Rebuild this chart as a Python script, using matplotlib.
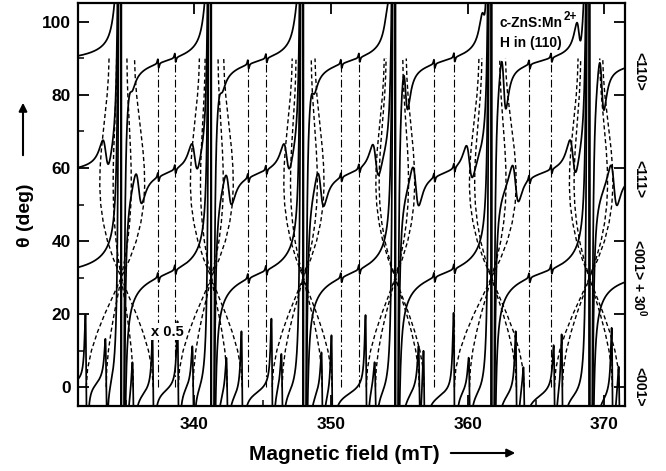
import numpy as np
import matplotlib
matplotlib.use("Agg")
import matplotlib.pyplot as plt
from matplotlib.ticker import MultipleLocator
import matplotlib.transforms as mtransforms
from matplotlib.patches import FancyArrowPatch

plt.rcParams['font.family'] = ['Liberation Sans', 'DejaVu Sans']
plt.rcParams['font.weight'] = 'bold'
plt.rcParams['mathtext.fontset'] = 'custom'
plt.rcParams['mathtext.rm'] = 'Liberation Sans:bold'
plt.rcParams['mathtext.bf'] = 'Liberation Sans:bold'
plt.rcParams['mathtext.default'] = 'bf'

# ---------------- data ----------------
field_range = [331.5, 371.5]
theta_range = [-5.2, 105.2]

# central (M=1/2 <-> -1/2) hyperfine sextet, mT
main_field = [334.66, 341.24, 347.97, 354.70, 361.73, 368.90]
# forbidden (dash-dot, isotropic) transitions, mT
forbidden_field = [337.37, 338.61, 343.95, 345.27, 350.75, 352.07,
                   357.56, 359.02, 364.51, 366.12]

# spectra: <001>, <001>+30, <111>, <110>
trace_names = ['<001>', '<001> + 30$^{0}$', '<111>', '<110>']
trace_label_pos = [0.0, 30.0, 57.0, 86.5]
trace_level = [-1.8, 31.0, 58.5, 89.3]
trace_slope = [0.05, 0.13, 0.10, 0.09]
main_amp = [900.0, 900.0, 900.0, 900.0]
main_width = [0.07, 0.07, 0.07, 0.07]
main_tail = [2.0, 7.5, 6.0, 5.5]
main_tail_width = [0.3, 0.35, 0.35, 0.35]
forbidden_amp = [0.0, 1.3, 1.2, 1.2]

# fine-structure satellites of every hyperfine line (offset mT, amplitude)
sat_offset_001 = [[-2.56, -1.10, 0.88, 2.34], [-2.41, -1.32, 1.17, 2.27],
                  [-2.27, -1.54, 1.39, 2.12], [-2.12, -1.45, 1.76, 2.12],
                  [-2.71, -1.60, 1.83, 2.40], [-2.56, -1.98, 1.68, 2.19]]
sat_amp_001 = [[14, 6.7, 6, 10], [13.5, 6.7, 6, 13], [14, 6, 6.7, 13],
               [15, 4, 6.7, 11], [17, 5, 12, 5], [7.5, 13.5, 14, 7]]
sat_offset_111 = [[-1.13, 1.28], [-1.21, 1.28], [-1.21, 1.28],
                  [-1.43, 1.50], [-1.61, 1.76], [-1.21, 1.79]]
sat_amp_111 = [[4.5, 5], [4.5, 5], [4.5, 5.5], [5, 6], [5, 5.5], [5.5, 6]]
sat_offset_110 = [[-0.40, 0.70], [-0.40, 0.70], [-0.42, 0.70],
                  [-0.44, 0.75], [-0.55, 0.90], [-0.77, 0.90]]
sat_amp_110 = [[1, 1.5], [1, 1.5], [1.5, 2], [3.5, 7], [4, 8], [4.5, 8]]
sat_width = [0.09, 0.2, 0.40, 0.30]
sat_tail = [1.0, 0.0, 0.0, 0.0]

# angular pattern of the satellites (fraction of the <001> splitting)
dash_theta = [0, 5, 10, 15, 20, 25, 30, 35, 40, 45, 50, 55, 60, 65,
              70, 75, 80, 85, 90]
dash_shape = [1.0, 0.96, 0.85, 0.68, 0.47, 0.23, 0.0, -0.24, -0.43,
              -0.56, -0.64, -0.67, -0.66, -0.62, -0.56, -0.50, -0.44,
              -0.40, -0.38]
forbidden_theta = [0, 90]

# ---------------- figure ----------------
fig = plt.figure(figsize=(6.66, 4.71), dpi=100)
ax = fig.add_axes([78 / 666, 1 - 406 / 471, 547 / 666, 403 / 471])


def deriv_line(x, x0, amp, w):
    u = (x - x0) / w
    return amp * (-2 * u / (1 + u ** 2) ** 2) / 0.6495


def tail_line(x, x0, T, w):
    return T * (x0 - x) / ((x - x0) ** 2 + w ** 2)


sat_offsets = [sat_offset_001, None, sat_offset_111, sat_offset_110]
sat_amps = [sat_amp_001, None, sat_amp_111, sat_amp_110]

x = np.linspace(field_range[0], field_range[1], 40001)

# dash-dot forbidden transitions
for F in forbidden_field:
    ax.plot([F, F], forbidden_theta, color='k', lw=0.8,
            linestyle=(0, (7, 2.5, 1.5, 2.5)), zorder=1)

# dashed angular dependences
for g, X in enumerate(main_field):
    for off in sat_offset_001[g]:
        xs = [X + off * s for s in dash_shape]
        ax.plot(xs, dash_theta, color='k', lw=1.0, linestyle=(0, (3, 2)),
                zorder=1)

# spectra
for t in range(4):
    y = trace_level[t] + trace_slope[t] * (x - 351.5)
    for g, X in enumerate(main_field):
        y = y + deriv_line(x, X, main_amp[t], main_width[t])
        y = y + tail_line(x, X, main_tail[t], main_tail_width[t])
        if sat_offsets[t] is not None:
            for off, a in zip(sat_offsets[t][g], sat_amps[t][g]):
                y = y + deriv_line(x, X + off, a, sat_width[t])
                if sat_tail[t]:
                    y = y + tail_line(x, X + off, sat_tail[t], sat_width[t])
    if forbidden_amp[t]:
        for F in forbidden_field:
            y = y + deriv_line(x, F, forbidden_amp[t], 0.06)
    y = np.clip(y, -300, 400)
    ax.plot(x, y, color='k', lw=1.25, zorder=3)

ax.set_xlim(*field_range)
ax.set_ylim(*theta_range)
ax.xaxis.set_major_locator(MultipleLocator(10))
ax.xaxis.set_minor_locator(MultipleLocator(5))
ax.yaxis.set_major_locator(MultipleLocator(20))
ax.yaxis.set_minor_locator(MultipleLocator(10))
ax.tick_params(which='major', direction='in', length=8, width=1.3,
               top=True, right=True, labelsize=12.5)
ax.tick_params(axis='y', which='major', pad=5)
ax.tick_params(axis='x', which='major', pad=8)
ax.tick_params(which='minor', direction='in', length=4, width=1.1,
               top=False, right=False)
for sp in ax.spines.values():
    sp.set_linewidth(1.6)

# right-hand orientation labels
trans = mtransforms.blended_transform_factory(ax.transAxes, ax.transData)
for name, pos in zip(trace_names, trace_label_pos):
    ax.text(1.027, pos, name, rotation=-90, ha='center', va='center',
            fontsize=10, transform=trans, clip_on=False)

t1 = ax.text(0.771, 0.940, 'c-ZnS:Mn', transform=ax.transAxes,
             fontsize=10, ha='left', va='baseline', zorder=5)
ax.text(0.771, 0.891, 'H in (110)', transform=ax.transAxes,
        fontsize=10, ha='left', va='baseline', zorder=5)
fig.canvas.draw()
bb = t1.get_window_extent()
x1_ax = ax.transAxes.inverted().transform((bb.x1, bb.y0))[0]
ax.annotate('2+', xy=(x1_ax, 0.940), xycoords='axes fraction',
            xytext=(0.8, 5.5), textcoords='offset points', fontsize=8.5,
            ha='left', va='baseline', zorder=5)
ax.text(0.163, 0.184, 'x 0.5', transform=ax.transAxes, fontsize=10.5,
        ha='center', va='center', zorder=5,
        bbox=dict(facecolor='white', edgecolor='none', pad=1.0))

# axis titles with arrows
fig.text(26 / 666, 1 - 215 / 471, 'θ (deg)', rotation=90, ha='center',
         va='center', fontsize=14)
fig.add_artist(FancyArrowPatch(
    (23 / 666, 1 - 158 / 471), (23 / 666, 1 - 100 / 471),
    transform=fig.transFigure, arrowstyle='-|>', mutation_scale=12,
    lw=1.5, color='k'))
fig.text(344 / 666, 1 - 455 / 471, 'Magnetic field (mT)', ha='center',
         va='center', fontsize=15)
fig.add_artist(FancyArrowPatch(
    (448 / 666, 1 - 453 / 471), (518 / 666, 1 - 453 / 471),
    transform=fig.transFigure, arrowstyle='-|>', mutation_scale=12,
    lw=1.5, color='k'))

fig.savefig('out.png', dpi=100)
